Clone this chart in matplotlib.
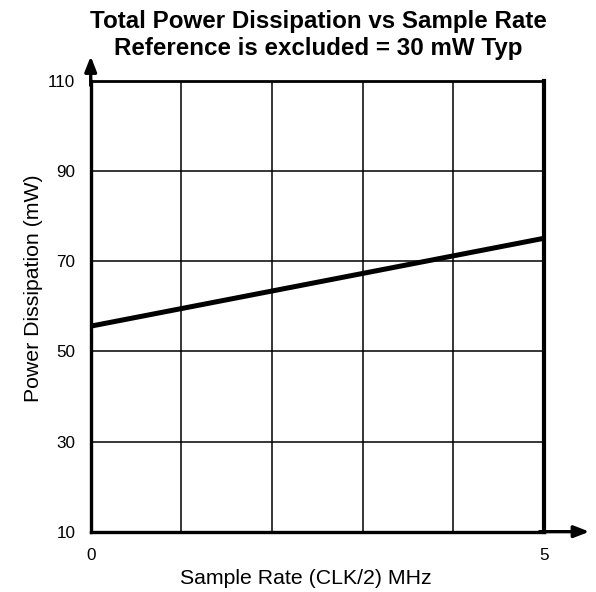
import matplotlib
matplotlib.use("Agg")
import matplotlib.pyplot as plt

plt.rcParams['font.family'] = ['Liberation Sans', 'DejaVu Sans']

sample_rate = [0, 5]
power = [55.6, 75.1]
x_ticks = [0, 5]
x_grid = [0, 1, 2, 3, 4, 5]
y_ticks = [10, 30, 50, 70, 90, 110]

fig = plt.figure(figsize=(5.96, 5.92), dpi=100)
ax = fig.add_axes([0.1522, 0.1019, 0.7606, 0.7613])
ax.set_xlim(0, 5)
ax.set_ylim(10, 110)

for xv in x_grid[1:-1]:
    ax.axvline(xv, color='black', lw=1.1, zorder=1)
for yv in y_ticks[1:-1]:
    ax.axhline(yv, color='black', lw=1.1, zorder=1)

ax.plot(sample_rate, power, color='black', lw=3.6, solid_capstyle='butt', zorder=3)

ax.set_xticks(x_ticks)
ax.set_yticks(y_ticks)
ax.tick_params(axis='y', which='major', length=0, labelsize=12.3, pad=11)
ax.tick_params(axis='x', which='major', length=0, labelsize=12.3, pad=12)
ax.set_xticks([0], minor=True)
ax.set_yticks([10], minor=True)
ax.tick_params(axis='both', which='minor', length=5, width=2)

for s in ['left', 'bottom']:
    ax.spines[s].set_linewidth(2.4)
ax.spines['top'].set_linewidth(2.0)
ax.spines['right'].set_linewidth(3.0)

# axis arrows
ax.annotate('', xy=(1.10, 0), xytext=(0.99, 0), xycoords='axes fraction',
            arrowprops=dict(arrowstyle='-|>,head_length=0.9,head_width=0.35', color='black', lw=2.4,
                            shrinkA=0, shrinkB=0), annotation_clip=False)
ax.annotate('', xy=(0, 1.055), xytext=(0, 0.99), xycoords='axes fraction',
            arrowprops=dict(arrowstyle='-|>,head_length=0.9,head_width=0.35', color='black', lw=2.4,
                            shrinkA=0, shrinkB=0), annotation_clip=False)

ax.set_xlabel('Sample Rate (CLK/2) MHz', fontsize=15.3, va='center')
ax.xaxis.set_label_coords(0.475, -0.103)
ax.set_ylabel('Power Dissipation (mW)', fontsize=15.3, va='center')
ax.yaxis.set_label_coords(-0.127, 0.541)
fig.suptitle('Total Power Dissipation vs Sample Rate\nReference is excluded = 30 mW Typ',
             fontsize=17.4, fontweight='bold', x=0.534, y=0.983, linespacing=1.24)

fig.savefig('out.png', dpi=100)
